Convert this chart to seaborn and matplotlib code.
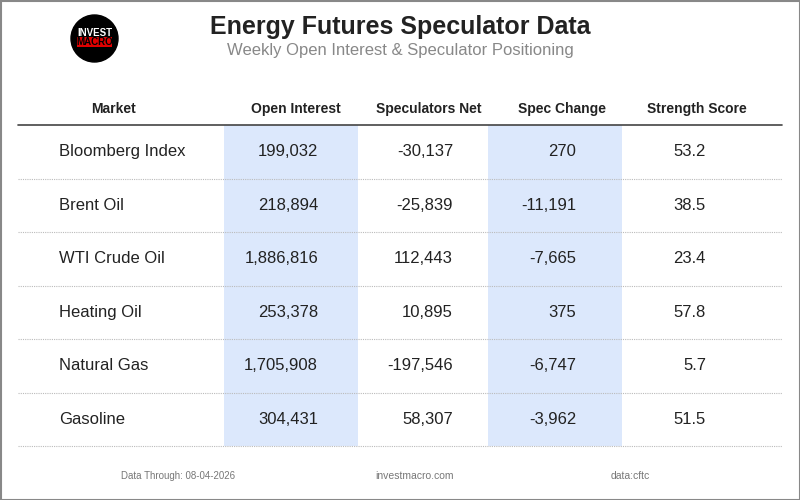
import matplotlib
matplotlib.use("Agg")
import matplotlib.pyplot as plt
import seaborn as sns
import pandas as pd
from matplotlib.patches import Circle, Rectangle

sns.set_theme(style="white")
plt.rcParams["font.family"] = ["Liberation Sans", "DejaVu Sans"]

# table data
markets = ["Bloomberg Index", "Brent Oil", "WTI Crude Oil", "Heating Oil", "Natural Gas", "Gasoline"]
open_interest = [199032, 218894, 1886816, 253378, 1705908, 304431]
spec_net = [-30137, -25839, 112443, 10895, -197546, 58307]
spec_change = [270, -11191, -7665, 375, -6747, -3962]
strength = [53.2, 38.5, 23.4, 57.8, 5.7, 51.5]

headers = ["Market", "Open Interest", "Speculators Net", "Spec Change", "Strength Score"]

df = pd.DataFrame({"Market": markets, "Open Interest": open_interest,
                   "Speculators Net": spec_net, "Spec Change": spec_change,
                   "Strength Score": strength})

# layout in pixel coords
header_x = [113, 296, 429, 562, 697]
value_right = [None, 318, 453, 576, 706]
shaded = [(224, 358), (488, 622)]
table_left, table_right = 18, 782
header_y, line_y = 109, 125
row_h = 53.5

fig = plt.figure(figsize=(8, 5), dpi=100)
ax = fig.add_axes([0, 0, 1, 1])
ax.set_xlim(0, 800)
ax.set_ylim(500, 0)
ax.axis("off")

# outer border
ax.add_patch(Rectangle((0.5, 0.5), 799, 499, fill=False, edgecolor="#888888", lw=1.5))

# logo
ax.add_patch(Circle((94.5, 38.5), 23.5, color="black"))
ax.add_patch(Rectangle((77, 37), 35, 9.5, color="#e00000", lw=0))
ax.text(94.5, 32.5, "INVEST", ha="center", va="center", color="white", fontsize=7, fontweight="bold")
ax.text(94.5, 42, "MACRO", ha="center", va="center", color="black", fontsize=7, fontweight="bold")

# title
ax.text(400, 27, "Energy Futures Speculator Data", ha="center", va="center",
        fontsize=18, fontweight="bold", color="#222222")
ax.text(400, 51, "Weekly Open Interest & Speculator Positioning", ha="center", va="center",
        fontsize=12, color="#888888")

n = len(df)
bottom = line_y + n * row_h

# shaded columns
for x0, x1 in shaded:
    ax.add_patch(Rectangle((x0, line_y), x1 - x0, bottom - line_y, color="#dce8fc", lw=0))

# header
for h, x in zip(headers, header_x):
    ax.text(x, header_y, h, ha="center", va="center", fontsize=10, fontweight="bold", color="#222222")
ax.plot([table_left, table_right], [line_y, line_y], color="#444444", lw=1.2)

# rows
for i, row in df.iterrows():
    yc = line_y + (i + 0.5) * row_h
    ax.text(59, yc, row["Market"], ha="left", va="center", fontsize=12, color="#222222")
    vals = [f"{row['Open Interest']:,}", f"{row['Speculators Net']:,}",
            f"{row['Spec Change']:,}", f"{row['Strength Score']:.1f}"]
    for v, xr in zip(vals, value_right[1:]):
        ax.text(xr, yc, v, ha="right", va="center", fontsize=12, color="#222222")
    yl = line_y + (i + 1) * row_h
    ax.plot([table_left, table_right], [yl, yl], color="#bbbbbb", lw=0.8, ls=(0, (1, 1)))

# footer
ax.text(178, 476, "Data Through: 08-04-2026", ha="center", va="center", fontsize=7, color="#777777")
ax.text(415, 476, "investmacro.com", ha="center", va="center", fontsize=7.5, color="#777777")
ax.text(630, 476, "data:cftc", ha="center", va="center", fontsize=7.5, color="#777777")

fig.savefig("out.png", dpi=100)
